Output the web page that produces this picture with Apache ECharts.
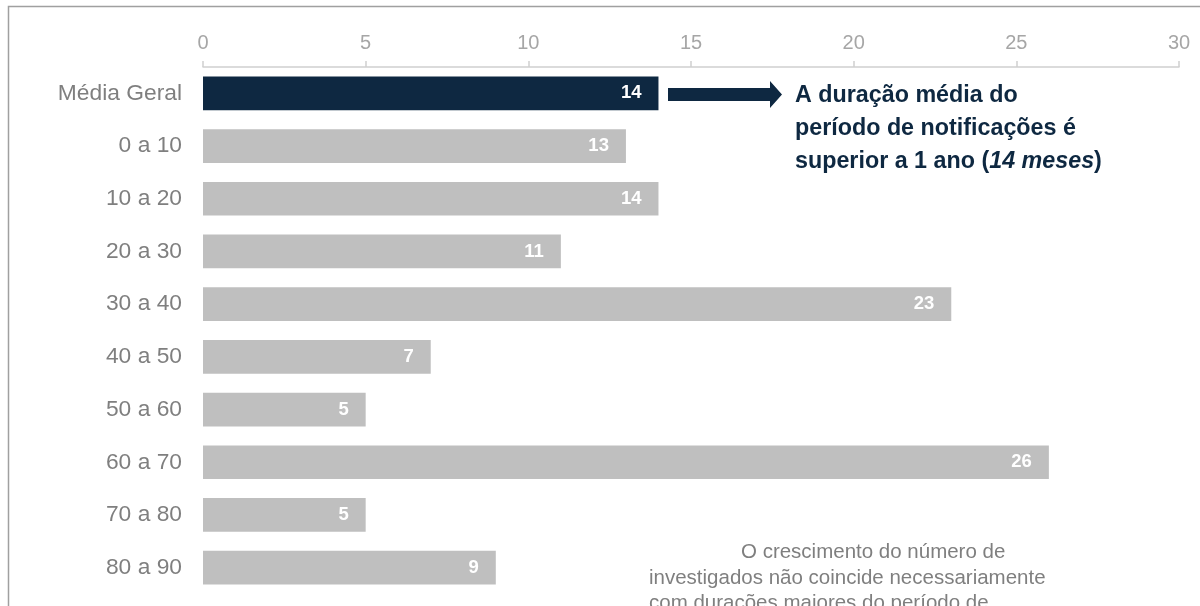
<!DOCTYPE html>
<html><head><meta charset="utf-8">
<script src="https://cdn.jsdelivr.net/npm/echarts@6/dist/echarts.min.js"></script>
<style>html,body{margin:0;padding:0;background:#fff}#c{width:1200px;height:606px}</style>
</head><body><div id="c"></div>
<script>
const categories = ['Média Geral','0 a 10','10 a 20','20 a 30','30 a 40','40 a 50','50 a 60','60 a 70','70 a 80','80 a 90'];
const values = [14,13,14,11,23,7,5,26,5,9];
const axisTicks = [0,5,10,15,20,25,30];
const highlightColor = '#0e2841';
const barColor = '#bfbfbf';
const noteLines = ['O crescimento do número de','investigados não coincide necessariamente','com durações maiores do período de'];

const chart = echarts.init(document.getElementById('c'));
const FONT = '"Liberation Sans", Arial, sans-serif';
const B = 'bold 23.3px ' + FONT;
const BI = 'italic bold 23.3px ' + FONT;
chart.setOption({
  animation:false,
  grid:{left:203,right:21,top:67,bottom:12,containLabel:false},
  xAxis:{type:'value',position:'top',min:axisTicks[0],max:axisTicks[axisTicks.length-1],interval:5,
    axisLine:{show:true,lineStyle:{color:'#d0d0d0',width:1.5}},
    axisTick:{show:true,length:6,lineStyle:{color:'#d0d0d0',width:1.5}},
    splitLine:{show:false},
    axisLabel:{color:'#a6a6a6',fontSize:20,fontFamily:FONT,margin:14}},
  yAxis:{type:'category',inverse:true,data:categories,
    axisLine:{show:false},axisTick:{show:false},
    axisLabel:{color:'#7f7f7f',fontSize:22.8,fontFamily:FONT,margin:21}},
  series:[{type:'bar',barCategoryGap:'36%',
    data:values.map((v,i)=>({value:v,itemStyle:{color:i===0?highlightColor:barColor}})),
    label:{show:true,position:'insideRight',distance:17,color:'#fff',fontWeight:'bold',fontSize:18.5,fontFamily:FONT}}],
  graphic:[
    {type:'rect',shape:{x:8.5,y:6.5,width:1300,height:700},style:{fill:'none',stroke:'#a0a0a0',lineWidth:1.5},silent:true},
    {type:'polygon',shape:{points:[[668,88],[770,88],[770,81],[782,94.5],[770,108],[770,101],[668,101]]},style:{fill:highlightColor}},
    {type:'text',left:795,top:84,style:{
      text:'{n|A duração média do}\n{n|período de notificações é}\n{n|superior a 1 ano (}{i|14 meses}{n|)}',
      rich:{n:{font:B,fill:highlightColor,lineHeight:33},i:{font:BI,fill:highlightColor,lineHeight:33}}}},
    {type:'text',left:741,top:542,style:{text:noteLines[0],font:'20.5px '+FONT,fill:'#7f7f7f'}},
    {type:'text',left:649,top:542,style:{text:'\n'+noteLines[1]+'\n'+noteLines[2],font:'20.5px '+FONT,fill:'#7f7f7f',lineHeight:24.5}}
  ]
});
</script></body></html>
